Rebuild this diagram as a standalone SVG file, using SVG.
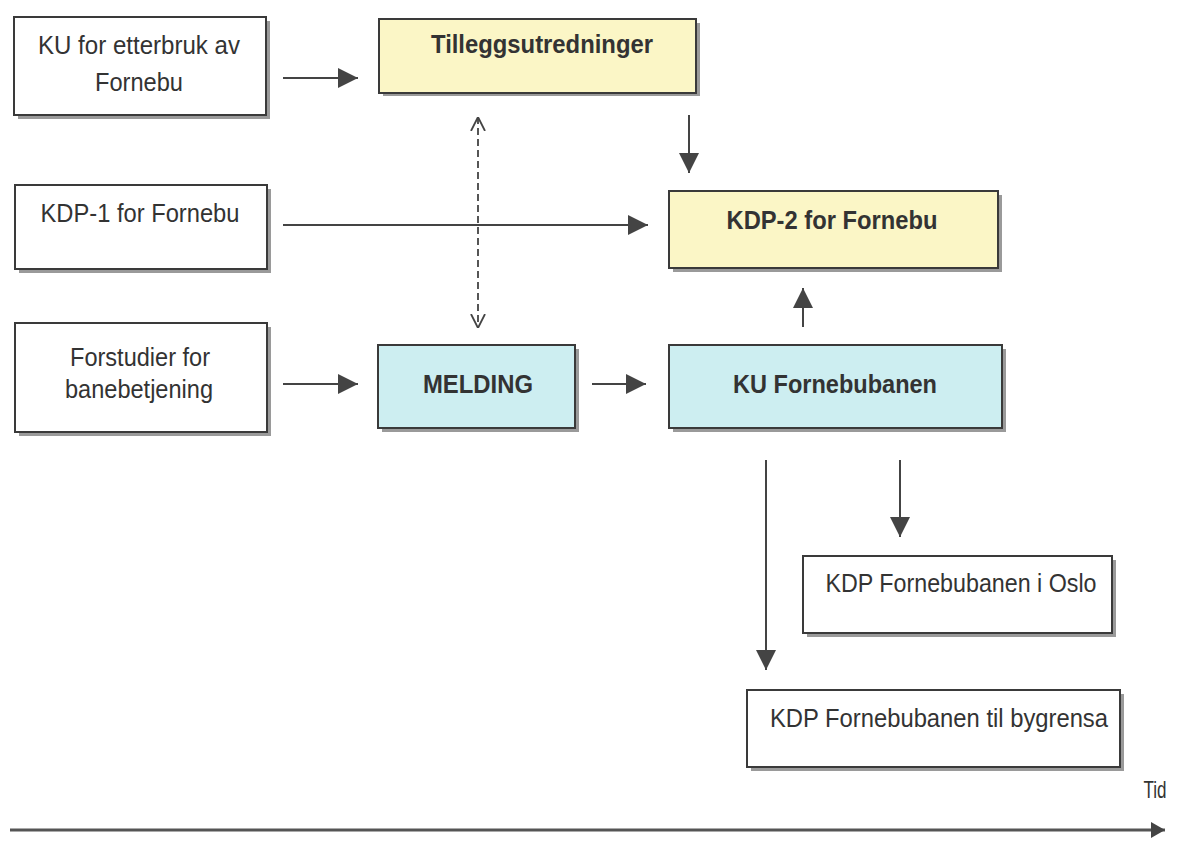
<svg xmlns="http://www.w3.org/2000/svg" width="1187" height="867" viewBox="0 0 1187 867">
<style>
.sh{fill:#9a9a9a}
.bx{stroke:#3a3a3a;stroke-width:2}
.w{fill:#fff}
.y{fill:#fbf6c6}
.b{fill:#cdeef1}
.t{font-family:"Liberation Sans",Arial,sans-serif;font-size:26px;fill:#333;text-anchor:middle}
.tb{font-family:"Liberation Sans",Arial,sans-serif;font-size:25px;font-weight:bold;fill:#333;text-anchor:middle}
.ln{stroke:#444;stroke-width:2;fill:none}
</style>
<defs>
<marker id="ah" viewBox="0 0 14 16" refX="14" refY="8" markerWidth="14" markerHeight="16" markerUnits="userSpaceOnUse" orient="auto"><path d="M0,0 L14,8 L0,16 z" fill="#444"/></marker>
<marker id="ahb" viewBox="0 0 20 20" refX="20" refY="10" markerWidth="20" markerHeight="20" markerUnits="userSpaceOnUse" orient="auto"><path d="M0,0 L20,10 L0,20 z" fill="#444"/></marker>
<marker id="ov" viewBox="0 0 14 16" refX="14" refY="8" markerWidth="14" markerHeight="16" markerUnits="userSpaceOnUse" orient="auto-start-reverse"><path d="M0,1 L14,8 L0,15" fill="none" stroke="#444" stroke-width="1.8"/></marker>
</defs>
<rect width="1187" height="867" fill="#fff"/>
<g id="n1"><rect class="sh" x="18" y="21" width="252" height="98"/><rect class="bx w" x="14" y="17" width="252" height="98"/>
<text class="t" x="139" y="54" textLength="202" lengthAdjust="spacingAndGlyphs">KU for etterbruk av</text>
<text class="t" x="139" y="91" textLength="88" lengthAdjust="spacingAndGlyphs">Fornebu</text></g>
<g id="n2"><rect class="sh" x="383" y="23" width="317" height="73"/><rect class="bx y" x="379" y="19" width="317" height="74"/>
<text class="tb" x="542" y="53" textLength="222" lengthAdjust="spacingAndGlyphs">Tilleggsutredninger</text></g>
<g id="n3"><rect class="sh" x="19" y="189" width="252" height="84"/><rect class="bx w" x="15" y="185" width="252" height="84"/>
<text class="t" x="140" y="222" textLength="199" lengthAdjust="spacingAndGlyphs">KDP-1 for Fornebu</text></g>
<g id="n4"><rect class="sh" x="673" y="195" width="329" height="77"/><rect class="bx y" x="669" y="191" width="329" height="77"/>
<text class="tb" x="832" y="229" textLength="211" lengthAdjust="spacingAndGlyphs">KDP-2 for Fornebu</text></g>
<g id="n5"><rect class="sh" x="19" y="327" width="252" height="109"/><rect class="bx w" x="15" y="323" width="252" height="109"/>
<text class="t" x="140" y="366" textLength="140" lengthAdjust="spacingAndGlyphs">Forstudier for</text>
<text class="t" x="139" y="398" textLength="148" lengthAdjust="spacingAndGlyphs">banebetjening</text></g>
<g id="n6"><rect class="sh" x="382" y="349" width="197" height="83"/><rect class="bx b" x="378" y="345" width="197" height="83"/>
<text class="tb" x="478" y="393" textLength="110" lengthAdjust="spacingAndGlyphs">MELDING</text></g>
<g id="n7"><rect class="sh" x="673" y="349" width="333" height="83"/><rect class="bx b" x="669" y="345" width="333" height="83"/>
<text class="tb" x="835" y="393" textLength="204" lengthAdjust="spacingAndGlyphs">KU Fornebubanen</text></g>
<g id="n8"><rect class="sh" x="807" y="560" width="309" height="77"/><rect class="bx w" x="803" y="556" width="309" height="77"/>
<text class="t" x="961" y="592" textLength="271" lengthAdjust="spacingAndGlyphs">KDP Fornebubanen i Oslo</text></g>
<g id="n9"><rect class="sh" x="751" y="694" width="373" height="77"/><rect class="bx w" x="747" y="690" width="373" height="77"/>
<text class="t" x="939" y="727" textLength="338" lengthAdjust="spacingAndGlyphs">KDP Fornebubanen til bygrensa</text></g>
<g id="tid"><text class="t" x="1155" y="798" textLength="23" lengthAdjust="spacingAndGlyphs" style="font-size:24px">Tid</text></g>
<g id="connectors">
<line class="ln" x1="283" y1="78" x2="358" y2="78" marker-end="url(#ahb)"/>
<line class="ln" x1="283" y1="225" x2="648" y2="225" marker-end="url(#ahb)"/>
<line class="ln" x1="283" y1="384" x2="358" y2="384" marker-end="url(#ahb)"/>
<line class="ln" x1="592" y1="384" x2="646" y2="384" marker-end="url(#ahb)"/>
<line class="ln" x1="689" y1="115" x2="689" y2="173" marker-end="url(#ahb)"/>
<line class="ln" x1="803" y1="327" x2="803" y2="288" marker-end="url(#ahb)"/>
<line class="ln" x1="900" y1="460" x2="900" y2="537" marker-end="url(#ahb)"/>
<line class="ln" x1="766" y1="460" x2="766" y2="670" marker-end="url(#ahb)"/>
<line x1="478" y1="117" x2="478" y2="328" stroke="#444" stroke-width="1.8" stroke-dasharray="7,4" marker-start="url(#ov)" marker-end="url(#ov)"/>
<line x1="10" y1="830" x2="1165" y2="830" stroke="#555" stroke-width="3" marker-end="url(#ah)"/>
</g>
</svg>
